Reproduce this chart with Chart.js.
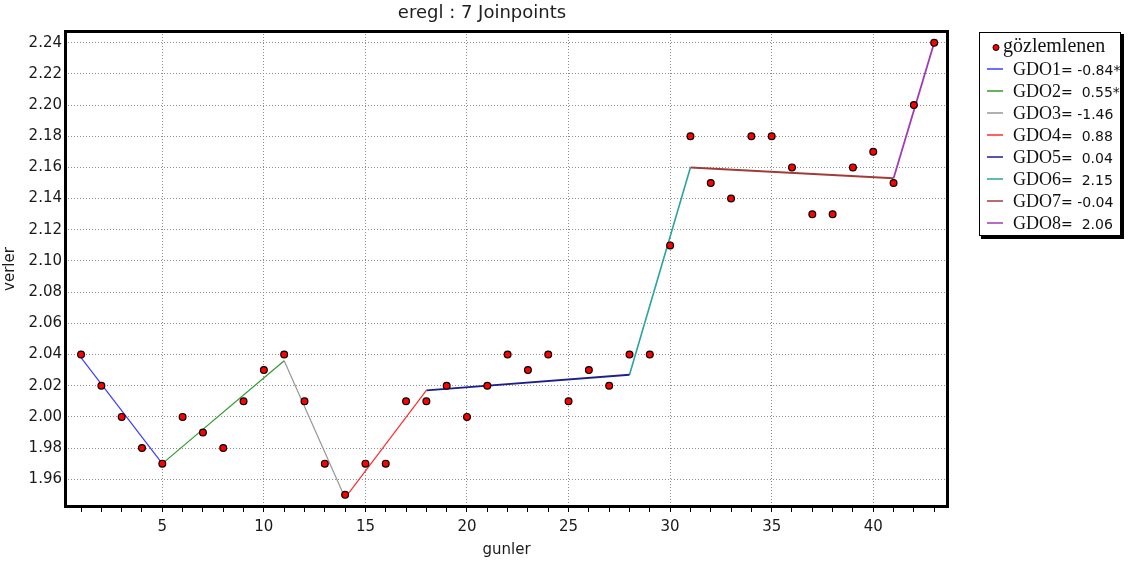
<!DOCTYPE html>
<html>
<head>
<meta charset="utf-8">
<title>eregl : 7 Joinpoints</title>
<script src="https://cdn.jsdelivr.net/npm/chart.js@4.4.1/dist/chart.umd.min.js"></script>
<style>
  html, body { margin: 0; padding: 0; background: #ffffff; }
  #wrap { width: 1131px; height: 567px; position: relative; }
</style>
</head>
<body>
<div id="wrap"><canvas id="c" width="1131" height="567"></canvas></div>
<script>
// ---- texts ----
const chartTitle = 'eregl : 7 Joinpoints';
const xAxisTitle = 'gunler';
const yAxisTitle = 'verler';
const observedLabel = 'gözlemlenen';

// ---- observed series (day -> value) ----
const days = [1, 2, 3, 4, 5, 6, 7, 8, 9, 10, 11, 12, 13, 14, 15, 16, 17, 18, 19, 20, 21,
              22, 23, 24, 25, 26, 27, 28, 29, 30, 31, 32, 33, 34, 35, 36, 37, 38, 39, 40, 41, 42, 43];
const observed = [2.04, 2.02, 2.00, 1.98, 1.97, 2.00, 1.99, 1.98, 2.01, 2.03, 2.04, 2.01, 1.97, 1.95, 1.97,
                  1.97, 2.01, 2.01, 2.02, 2.00, 2.02, 2.04, 2.03, 2.04, 2.01, 2.03, 2.02, 2.04, 2.04, 2.11,
                  2.18, 2.15, 2.14, 2.18, 2.18, 2.16, 2.13, 2.13, 2.16, 2.17, 2.15, 2.20, 2.24];

// ---- fitted joinpoint model: segment end days and fitted values there ----
const joinDays = [1, 5, 11, 14, 18, 28, 31, 41, 43];
const fittedAtJoins = [2.038, 1.970, 2.036, 1.948, 2.017, 2.027, 2.160, 2.153, 2.240];

// ---- segment legend: names, percent change per segment, significance ----
const segmentNames = ['GDO1', 'GDO2', 'GDO3', 'GDO4', 'GDO5', 'GDO6', 'GDO7', 'GDO8'];
const segmentChange = [-0.84, 0.55, -1.46, 0.88, 0.04, 2.15, -0.04, 2.06];
const segmentSignificant = [true, true, false, false, false, false, false, false];
const segmentColors = ['#3c3cff', '#2f9b2f', '#979797', '#ff2b2b', '#1f1f8c', '#2aa3a3', '#a33a3a', '#a23ab6'];
const segmentWidths = [1.2, 1.2, 1.2, 1.2, 2, 1.6, 2, 1.8];

// ---- axis ranges and tick steps ----
const xRange = [0.21, 43.68];
const yRange = [1.9422, 2.2475];
const xStep = 1, xLabelEvery = 5;
const yStep = 0.02;

const SANS = '"DejaVu Sans", sans-serif';
const SERIF = '"Liberation Serif", "Times New Roman", serif';

function changeText(v, sig) {
  const s = v < 0 ? '= ' + v.toFixed(2) : '=  ' + v.toFixed(2);
  return sig ? s + '*' : s;
}

const pointsData = days.map((d, i) => ({ x: d, y: observed[i] }));
const segmentDatasets = segmentNames.map((name, i) => ({
  type: 'line',
  label: name + changeText(segmentChange[i], segmentSignificant[i]),
  data: [
    { x: joinDays[i], y: fittedAtJoins[i] },
    { x: joinDays[i + 1], y: fittedAtJoins[i + 1] }
  ],
  borderColor: segmentColors[i],
  borderWidth: segmentWidths[i],
  pointRadius: 0,
  showLine: true,
  fill: false,
  tension: 0,
  order: 1
}));

// heading above the plot
const headingPlugin = {
  id: 'heading',
  afterDraw(chart) {
    const ctx = chart.ctx;
    ctx.save();
    ctx.font = '18px ' + SANS;
    ctx.fillStyle = '#202020';
    ctx.textAlign = 'center';
    ctx.textBaseline = 'alphabetic';
    ctx.fillText(chartTitle, 482, 18);
    ctx.restore();
  }
};

// heavy black frame around the plotting area
const framePlugin = {
  id: 'frame',
  beforeDatasetsDraw(chart) {
    const a = chart.chartArea, ctx = chart.ctx;
    ctx.save();
    ctx.strokeStyle = '#000';
    ctx.lineWidth = 3;
    ctx.strokeRect(a.left + 0.5, a.top + 0.5, a.right - a.left - 1, a.bottom - a.top - 1);
    ctx.restore();
  }
};

// boxed legend on the right side
const sideLegendPlugin = {
  id: 'sideLegend',
  afterDraw(chart) {
    const ctx = chart.ctx;
    const L = 979, T = 32, W = 142, H = 204;
    ctx.save();
    ctx.fillStyle = '#000';
    ctx.fillRect(L + 2, T + 2, W + 1, H + 1);
    ctx.fillStyle = '#fff';
    ctx.fillRect(L, T, W, H);
    ctx.strokeStyle = '#000';
    ctx.lineWidth = 1;
    ctx.strokeRect(L + 0.5, T + 0.5, W - 1, H - 1);

    const pts = chart.data.datasets[0];
    ctx.beginPath();
    ctx.arc(996, 47.5, 3, 0, Math.PI * 2);
    ctx.fillStyle = pts.pointBackgroundColor;
    ctx.fill();
    ctx.strokeStyle = pts.pointBorderColor;
    ctx.stroke();
    ctx.fillStyle = '#111';
    ctx.font = '20px ' + SERIF;
    ctx.textBaseline = 'alphabetic';
    ctx.textAlign = 'left';
    ctx.fillText(pts.label, 1003, 52);

    chart.data.datasets.slice(1).forEach((ds, i) => {
      const by = 75 + i * 22;
      ctx.strokeStyle = ds.borderColor;
      ctx.lineWidth = 1.5;
      ctx.beginPath();
      ctx.moveTo(987, by - 6);
      ctx.lineTo(1003, by - 6);
      ctx.stroke();
      const name = segmentNames[i];
      ctx.fillStyle = '#111';
      ctx.font = '18px ' + SERIF;
      ctx.fillText(name, 1013, by);
      const w = ctx.measureText(name).width;
      ctx.font = '14px ' + SANS;
      ctx.fillText(ds.label.slice(name.length), 1013 + w, by);
    });
    ctx.restore();
  }
};

new Chart(document.getElementById('c'), {
  type: 'scatter',
  data: {
    datasets: [
      {
        type: 'scatter',
        label: observedLabel,
        data: pointsData,
        pointRadius: 3.4,
        pointBorderWidth: 1.2,
        pointBackgroundColor: '#ff0000',
        pointBorderColor: '#000000',
        showLine: false,
        order: 0
      },
      ...segmentDatasets
    ]
  },
  options: {
    responsive: false,
    animation: false,
    layout: { padding: { top: 31, right: 183, left: 0, bottom: 0 } },
    plugins: {
      legend: { display: false },
      tooltip: { enabled: false },
      title: { display: false }
    },
    scales: {
      x: {
        type: 'linear',
        min: xRange[0],
        max: xRange[1],
        afterFit(s) { s.height = 60; },
        border: { display: false, dash: [1, 2] },
        grid: {
          color: (c) => (c.tick && Math.round(c.tick.value) % xLabelEvery === 0) ? '#8f8f8f' : 'rgba(0,0,0,0)',
          lineWidth: 1,
          drawTicks: true,
          tickLength: 5,
          tickColor: '#000',
          tickWidth: 1,
          tickBorderDash: []
        },
        ticks: {
          stepSize: xStep,
          includeBounds: false,
          autoSkip: false,
          maxRotation: 0,
          maxTicksLimit: 100,
          padding: 6,
          color: '#1a1a1a',
          font: { family: SANS, size: 15 },
          callback: (v) => (Math.round(v) % xLabelEvery === 0 ? String(Math.round(v)) : '')
        },
        title: {
          display: true,
          text: xAxisTitle,
          color: '#1a1a1a',
          font: { family: SANS, size: 15 },
          padding: { top: 0, bottom: 8 }
        }
      },
      y: {
        type: 'linear',
        min: yRange[0],
        max: yRange[1],
        afterFit(s) { s.width = 65; },
        border: { display: false, dash: [1, 2] },
        grid: {
          color: '#8f8f8f',
          lineWidth: 1,
          drawTicks: false
        },
        ticks: {
          stepSize: yStep,
          includeBounds: false,
          autoSkip: false,
          maxTicksLimit: 100,
          padding: 3,
          color: '#1a1a1a',
          font: { family: SANS, size: 15 },
          callback: (v) => Number(v).toFixed(2)
        },
        title: {
          display: true,
          text: yAxisTitle,
          color: '#1a1a1a',
          font: { family: SANS, size: 15 },
          padding: { top: 1, bottom: 0 }
        }
      }
    }
  },
  plugins: [headingPlugin, framePlugin, sideLegendPlugin]
});
</script>
</body>
</html>
